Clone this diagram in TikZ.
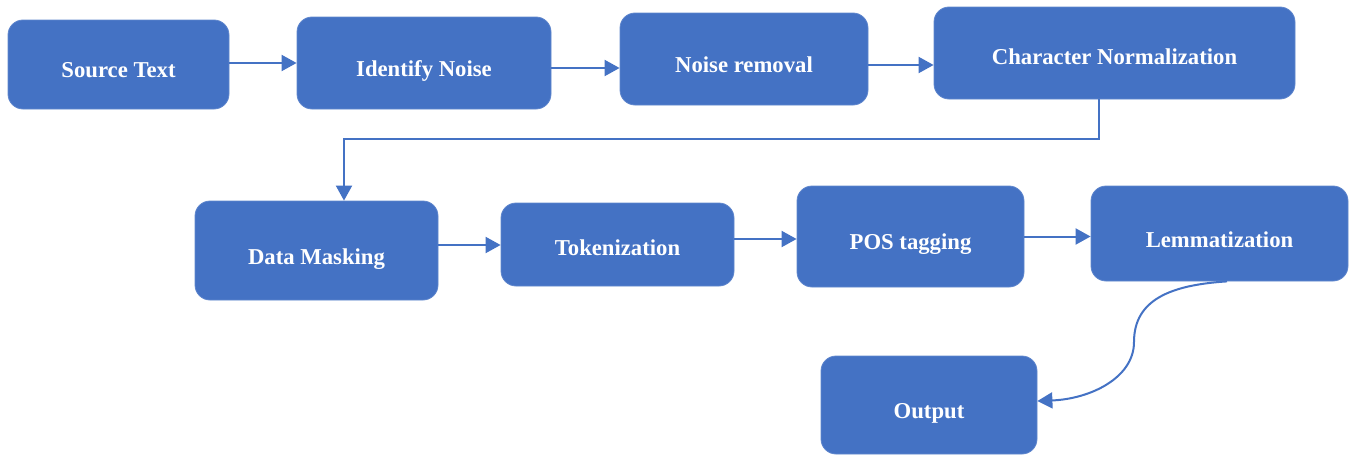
\documentclass[tikz,border=0pt]{standalone}
\usepackage{fontspec}
\setmainfont{Liberation Serif}
\usetikzlibrary{arrows.meta}
\definecolor{boxblue}{HTML}{4472C4}
\tikzstyle{box}=[fill=boxblue,draw=boxblue!85!white,thin,rounded corners=7.5pt,inner sep=0pt]
\tikzstyle{lbl}=[text=white,anchor=base,inner sep=0pt,font=\bfseries\fontsize{11.35}{13}\selectfont]
\tikzstyle{arr}=[draw=boxblue,line width=1pt,-{Triangle[length=7.5pt,width=8pt]}]

\begin{document}
\begin{tikzpicture}[x=0.5pt, y=-0.5pt]
	\useasboundingbox (0,0) rectangle (1351,455);
	%boxes
	\node[box, minimum width=110.5pt, minimum height=44.5pt] (b1) at (118.5,64.5) {};
	\node[box, minimum width=127pt, minimum height=46pt] (b2) at (424,63) {};
	\node[box, minimum width=124pt, minimum height=46pt] (b3) at (744,59) {};
	\node[box, minimum width=180.5pt, minimum height=46pt] (b4) at (1114.5,53) {};
	\node[box, minimum width=121.5pt, minimum height=49.5pt] (b5) at (316.5,250.5) {};
	\node[box, minimum width=116.5pt, minimum height=41.5pt] (b6) at (617.5,244.5) {};
	\node[box, minimum width=113.5pt, minimum height=50.5pt] (b7) at (910.5,236.5) {};
	\node[box, minimum width=128.5pt, minimum height=47.5pt] (b8) at (1219.5,233.5) {};
	\node[box, minimum width=108pt, minimum height=49pt] (b9) at (929,405) {};
	%labels
	\node[lbl] (t1) at ([yshift=-6.25pt]b1.center) {Source Text};
	\node[lbl] (t2) at ([yshift=-6.75pt]b2.center) {Identify Noise};
	\node[lbl] (t3) at ([yshift=-6.75pt]b3.center) {Noise removal};
	\node[lbl] (t4) at ([yshift=-5.75pt]b4.center) {Character Normalization};
	\node[lbl] (t5) at ([yshift=-6.75pt]b5.center) {Data Masking};
	\node[lbl] (t6) at ([yshift=-5.5pt]b6.center) {Tokenization};
	\node[lbl] (t7) at ([yshift=-6.5pt]b7.center) {POS tagging};
	\node[lbl] (t8) at ([yshift=-7pt]b8.center) {Lemmatization};
	\node[lbl] (t9) at ([yshift=-6.5pt]b9.center) {Output};
	%arrows
	\draw[arr] ([yshift=0.75pt]b1.east) -- ([yshift=0.75pt]b1.east -| b2.west);
	\draw[arr] ([yshift=-2.5pt]b2.east) -- ([yshift=-2.5pt]b2.east -| b3.west);
	\draw[arr] ([yshift=-3pt]b3.east) -- ([yshift=-3pt]b3.east -| b4.west);
	\coordinate (k1) at (1099,139);
	\coordinate (k2) at (344,139);
	\draw[arr] (k1 |- b4.south) -- (k1) -- (k2) -- (k2 |- b5.north);
	\draw[arr] ([yshift=2.75pt]b5.east) -- ([yshift=2.75pt]b5.east -| b6.west);
	\draw[arr] ([yshift=2.75pt]b6.east) -- ([yshift=2.75pt]b6.east -| b7.west);
	\draw[arr] (b7.east) -- (b7.east -| b8.west);
	%curve
	\draw[arr] ([xshift=3.75pt]b8.south) .. controls (1170,285) and (1134,300) .. (1134,342)
		.. controls (1134,378) and (1090,399) .. ([yshift=2pt]b9.east);
\end{tikzpicture}
\end{document}
